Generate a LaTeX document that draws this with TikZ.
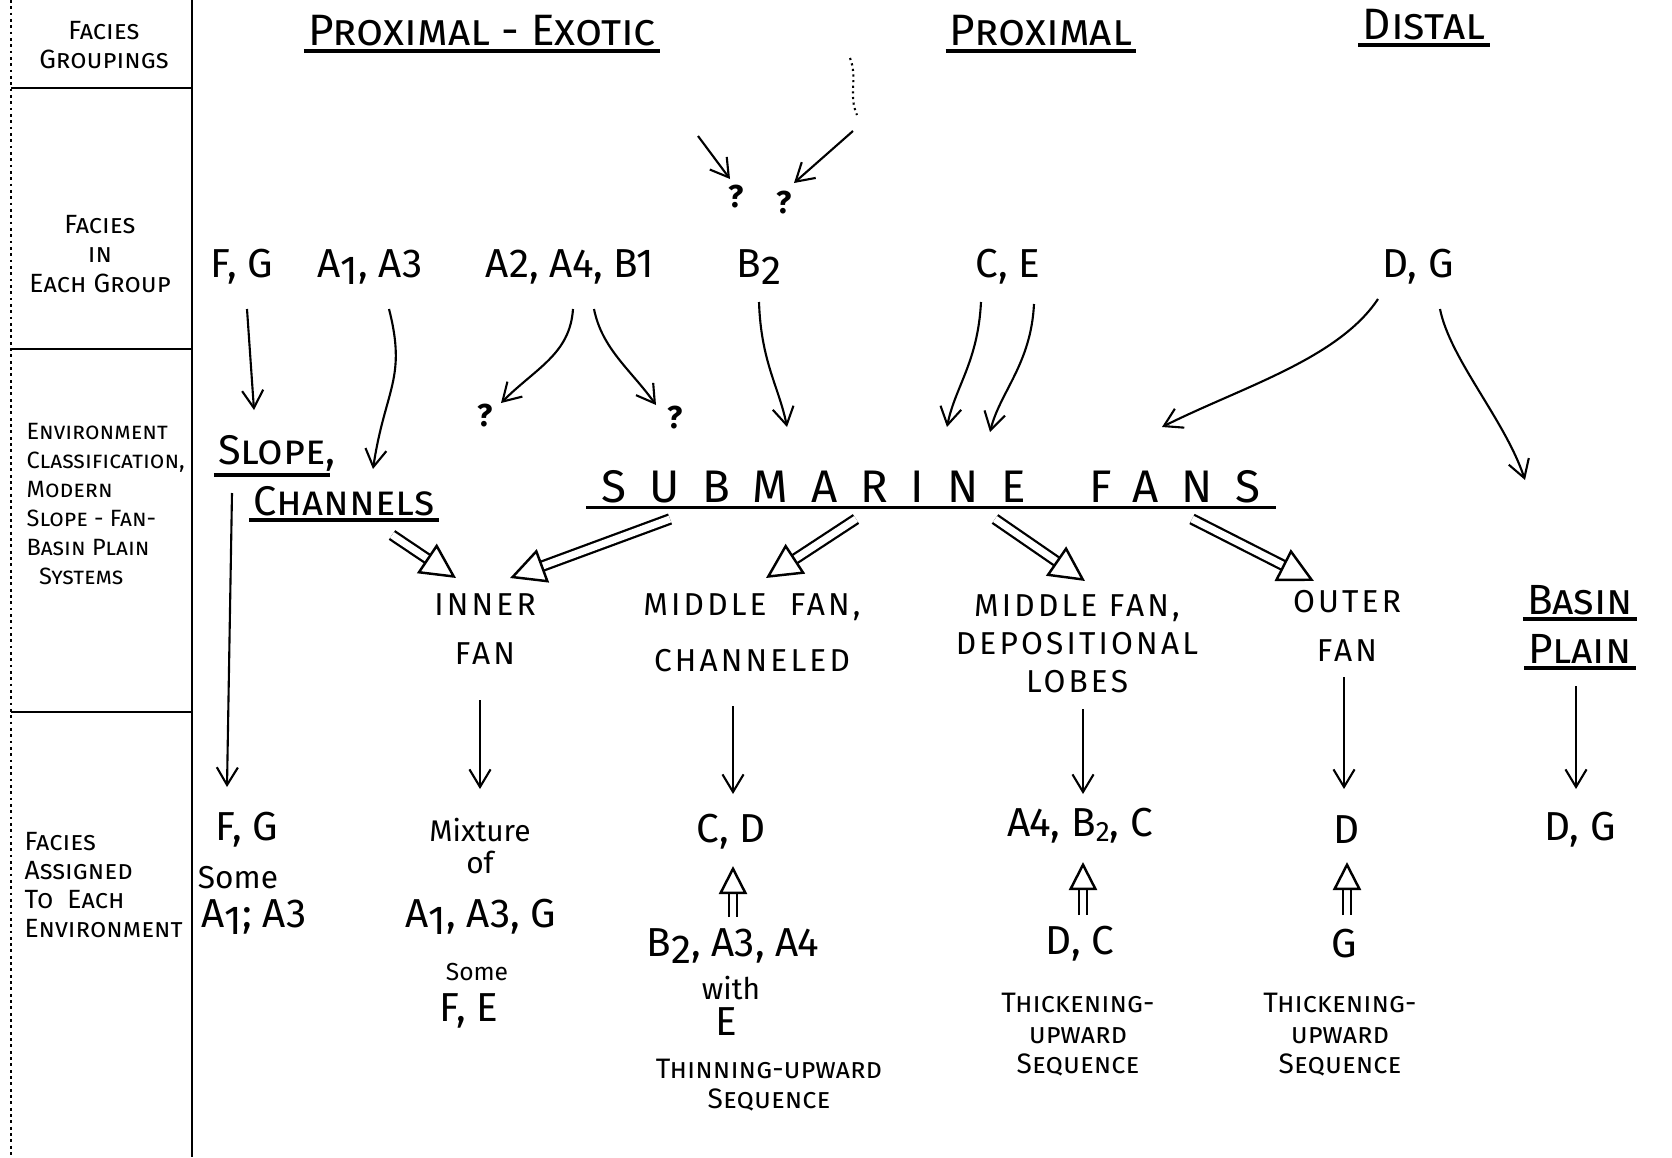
\documentclass[tikz,border=0pt]{standalone}
\usepackage{fontspec}
\setmainfont{Fira Sans}
\usetikzlibrary{arrows.meta}

\newcommand\lo[1]{\raisebox{-.35ex}{#1}}
\newcommand\sm[1]{\raisebox{-.2ex}{\fontsize{8}{8}\selectfont #1}}

\begin{document}
\begin{tikzpicture}[x=0.01cm, y=-0.01cm,
    side/.style={font=\fontsize{7.5}{8.3}\selectfont\scshape, align=left, inner sep=0pt},
    head/.style={font=\fontsize{12.5}{14}\selectfont\scshape, inner sep=1pt},
    fac/.style={font=\fontsize{11.5}{14}\selectfont, inner sep=1pt},
    envi/.style={font=\fontsize{9}{10.8}\selectfont\addfontfeatures{LetterSpace=10}, align=center, inner sep=1pt},
    low/.style={font=\fontsize{8.5}{9}\selectfont, align=center, inner sep=1pt},
    seq/.style={font=\fontsize{8}{8.7}\selectfont\scshape, align=center, inner sep=1pt},
    qm/.style={font=\fontsize{9}{9}\selectfont\bfseries, inner sep=0pt},
    frame/.style={line width=0.8pt},
    ul/.style={line width=1.1pt},
    arr/.style={-{Straight Barb[length=5pt, width=6pt]}, line width=0.6pt},
    fat/.style={double, double distance=2pt, line width=0.65pt,
                -{Triangle[open, length=10pt, width=10pt, line width=0.7pt]}},
    fatup/.style={double, double distance=1.5pt, line width=0.6pt,
                -{Triangle[open, length=8pt, width=8pt, line width=0.7pt]}}
]
\useasboundingbox (0,0) rectangle (1672,1157);

% left column
\draw[frame, densely dotted] (11,0) -- (11,1157);
\draw[frame] (192,0) -- (192,1157);
\draw[frame] (11,88) -- (192,88);
\draw[frame] (11,349) -- (192,349);
\draw[frame] (11,712) -- (192,712);

\node[side, align=center] (lgrp) at (104,45) {Facies\\Groupings};
\node[side, align=center] (lfac) at (100,254) {Facies\\in\\Each Group};
\node[side, anchor=west, font=\fontsize{6.7}{8.3}\selectfont\scshape] (lenv) at (26,504) {Environment\\Classification,\\Modern\\Slope - Fan-\\Basin Plain\\\ \ Systems};
\node[side, anchor=west] (lass) at (24,885) {Facies\\Assigned\\To\ \ Each\\Environment};

% groupings
\node[head] (pe) at (482,31) {Proximal - Exotic};
\node[head] (prox) at (1041,31) {Proximal};
\node[head] (dist) at (1424,25) {Distal};
\draw[ul] (pe.south west) -- (pe.south east);
\draw[ul] (prox.south west) -- (prox.south east);
\draw[ul] (dist.south west) -- (dist.south east);

\coordinate (u1) at (698,136);
\coordinate (u2) at (853,131);
\draw[densely dotted, line width=0.6pt] (850,58) .. controls (858,78) and (848,95) .. (857,115);
\node[qm] (q1) at (736,197) {?};
\node[qm] (q2) at (784,203) {?};
\draw[arr] (u1) -- ([shift={(-6,-18)}]q1.center);
\draw[arr] (u2) -- ([shift={(10,-20)}]q2.center);

% facies in each group
\node[fac] (fg) at (242,267) {F, G};
\node[fac] (aa) at (370,267) {A\lo{1}, A3};
\node[fac] (aab) at (570,267) {A2, A4, B1};
\node[fac] (b2) at (759,267) {B\lo{2}};
\node[fac] (ce) at (1008,267) {C,\ E};
\node[fac] (dg) at (1418,267) {D, G};

% environments
\node[head, font=\fontsize{11.8}{14}\selectfont\scshape] (slope) at (272,453) {Slope\rlap{,}};
\node[head, font=\fontsize{11.8}{14}\selectfont\scshape] (chan) at (344,501) {Channels};
\draw[ul] (slope.south west) -- (slope.south east);
\draw[ul] (chan.south west) -- (chan.south east);
\node[font=\fontsize{13}{14}\selectfont\addfontfeatures{LetterSpace=50}, inner sep=1pt] (sf) at (931,487) {SUBMARINE\hspace{1.4em}FANS};
\draw[ul] ([xshift=-3pt]sf.south west) -- ([xshift=3pt]sf.south east);
\node[qm] (q3) at (485,416) {?};
\node[qm] (q4) at (675,418) {?};

\draw[arr] ([shift={(5,42)}]fg.center) -- ([shift={(-18,-43)}]slope.center);
\draw[arr] ([shift={(19,42)}]aa.center) .. controls +(18,70) and +(12,-80) .. ([shift={(29,-32)}]chan.center);
\draw[arr] ([shift={(3,42)}]aab.center) .. controls +(-3,45) and +(35,-35) .. ([shift={(16,-13)}]q3.center);
\draw[arr] ([shift={(24,42)}]aab.center) .. controls +(8,40) and +(-25,-35) .. ([shift={(-19,-13)}]q4.center);
\draw[arr] ([shift={(0,35)}]b2.center) .. controls +(2,60) and +(-8,-40) .. ([shift={(-144,-60)}]sf.center);
\draw[arr] ([shift={(-27,35)}]ce.center) .. controls +(-3,60) and +(8,-40) .. ([shift={(16,-60)}]sf.center);
\draw[arr] ([shift={(26,37)}]ce.center) .. controls +(-3,60) and +(10,-40) .. ([shift={(59,-55)}]sf.center);
\draw[arr] ([shift={(-40,32)}]dg.center) .. controls +(-40,60) and +(80,-40) .. ([shift={(231,-60)}]sf.center);

\node[envi] (inner) at (485,629) {INNER\\[3pt]FAN};
\node[envi] (midc) at (752,633) {MIDDLE\ \ FAN,\\[5pt]CHANNELED};
\node[envi] (midd) at (1077,644) {MIDDLE FAN,\\DEPOSITIONAL\\LOBES};
\node[envi] (outer) at (1347,626) {OUTER\\[3pt]FAN};
\node[head, font=\fontsize{12}{14}\selectfont\scshape] (basin) at (1580,600) {Basin};
\node[head, font=\fontsize{12}{14}\selectfont\scshape] (plain) at (1580,649) {Plain};
\draw[ul] (basin.south west) -- (basin.south east);
\draw[ul] (plain.south west) -- (plain.south east);
\draw[arr] ([shift={(22,42)}]dg.center) .. controls +(10,50) and +(-20,-60) .. ([shift={(-55,-120)}]basin.center);

\draw[fat] ([shift={(48,34)}]chan.center) -- ([shift={(-29,-51)}]inner.center);
\draw[fat] ([shift={(-261,32)}]sf.center) -- ([shift={(25,-51)}]inner.center);
\draw[fat] ([shift={(-75,32)}]sf.center) -- ([shift={(14,-55)}]midc.center);
\draw[fat] ([shift={(64,32)}]sf.center) -- ([shift={(8,-63)}]midd.center);
\draw[fat] ([shift={(261,32)}]sf.center) -- ([shift={(-33,-45)}]outer.center);

% facies assigned
\node[fac] (fg5) at (247,830) {F, G};
\node[low, font=\fontsize{9}{10}\selectfont] (some1) at (238,878) {Some};
\node[fac] (a13) at (254,917) {A\lo{1}; A3};

\node[low] (mix) at (480,846) {Mixture\\of};
\node[fac] (aag) at (481,917) {A\lo{1}, A3, G};
\node[low, font=\fontsize{7}{7}\selectfont] (some2) at (477,972) {Some};
\node[fac] (fe) at (469,1011) {F, E};

\node[fac] (cd) at (731,832) {C, D};
\node[fac] (baa) at (733,946) {B\lo{2}, A3, A4};
\node[low] (with) at (731,988) {with};
\node[fac] (e5) at (726,1022) {E};
\node[seq] (thin) at (769,1085) {Thinning-upward\\Sequence};

\node[fac] (abc) at (1080,826) {A4, B\sm{2}, C};
\node[fac] (dc) at (1080,944) {D, C};
\node[seq] (thick1) at (1078,1035) {Thickening-\\upward\\Sequence};

\node[fac] (d5) at (1347,830) {D};
\node[fac] (g5) at (1344,944) {G};
\node[seq] (thick2) at (1340,1035) {Thickening-\\upward\\Sequence};

\node[fac] (dg5) at (1580,830) {D, G};

\draw[arr] ([shift={(-40,40)}]slope.center) -- ([shift={(-20,-43)}]fg5.center);
\draw[arr] ([shift={(-5,71)}]inner.center) -- ([shift={(0,-57)}]mix.center);
\draw[arr] ([shift={(-19,73)}]midc.center) -- ([shift={(2,-38)}]cd.center);
\draw[arr] ([shift={(6,65)}]midd.center) -- ([shift={(3,-32)}]abc.center);
\draw[arr] ([shift={(-3,51)}]outer.center) -- ([shift={(-3,-41)}]d5.center);
\draw[arr] ([shift={(-4,37)}]plain.center) -- ([shift={(-4,-41)}]dg5.center);

\draw[fatup] ([shift={(0,-29)}]baa.center) -- ([shift={(2,34)}]cd.center);
\draw[fatup] ([shift={(3,-29)}]dc.center) -- ([shift={(3,36)}]abc.center);
\draw[fatup] ([shift={(3,-29)}]g5.center) -- ([shift={(0,32)}]d5.center);
\end{tikzpicture}
\end{document}
